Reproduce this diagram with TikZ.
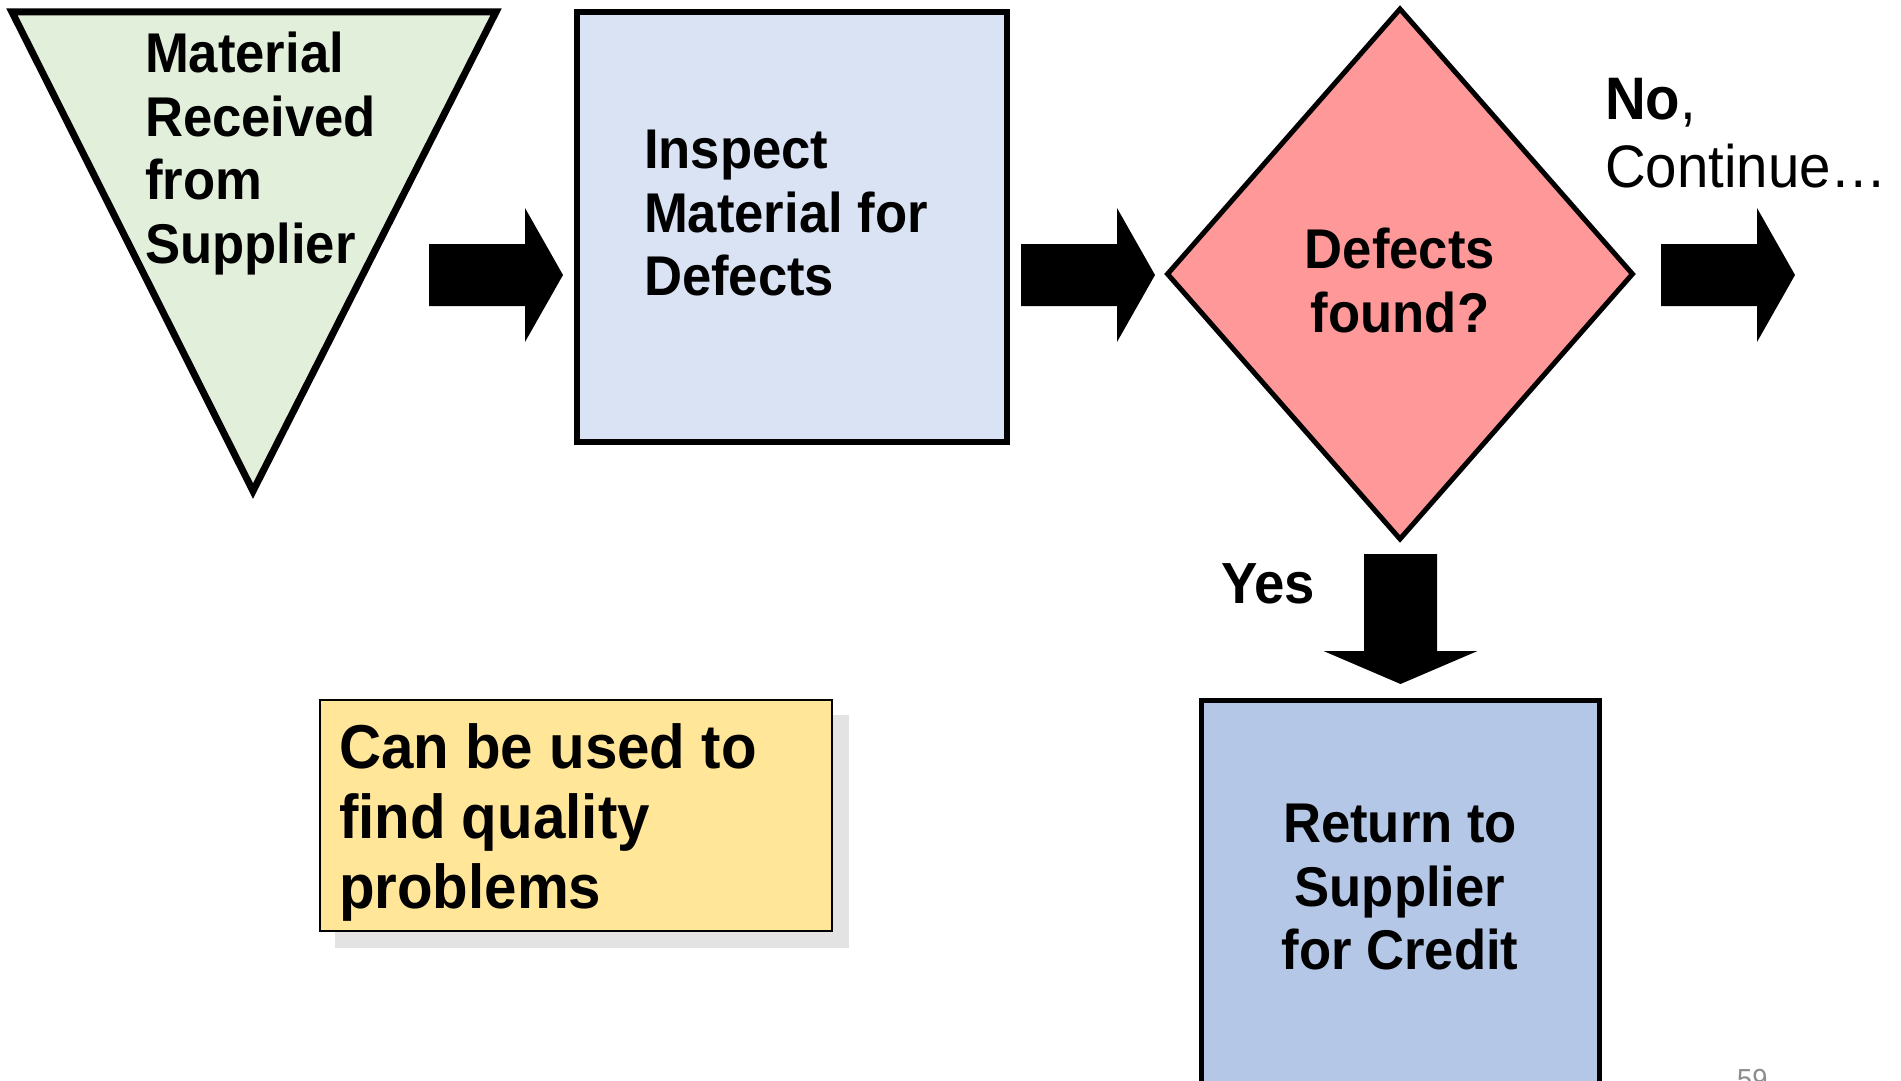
\documentclass[tikz,border=0pt]{standalone}
\usepackage{fontspec}
\setmainfont{Liberation Sans}[FakeStretch=0.94]
\usetikzlibrary{shapes.geometric,backgrounds}

\definecolor{trigreen}{HTML}{E2EFDA}
\definecolor{inspblue}{HTML}{DAE3F3}
\definecolor{decred}{HTML}{FF9999}
\definecolor{retblue}{HTML}{B4C7E7}
\definecolor{noteyellow}{HTML}{FFE699}
\definecolor{shadowgrey}{HTML}{E3E3E3}
\definecolor{pagegrey}{HTML}{8C8C8C}

\tikzset{
  txt/.style={inner sep=0pt, outer sep=0pt, align=left,
    font=\bfseries\fontsize{56}{63.5}\selectfont},
  stepbox/.style={draw, line width=6pt, inner sep=0pt},
  rarrow/.pic={\fill (0,-31) -- (96,-31) -- (96,-67) -- (134,0)
      -- (96,67) -- (96,31) -- (0,31) -- cycle;},
  darrow/.pic={\fill (-36.5,0) -- (36.5,0) -- (36.5,97) -- (77,97)
      -- (0,130) -- (-77,97) -- (-36.5,97) -- cycle;}
}

\begin{document}
\begin{tikzpicture}[x=1pt,y=-1pt]
\useasboundingbox (0,0) rectangle (1901,1081);

% incoming material (inverted triangle)
\path[draw, line width=7pt, fill=trigreen]
  (12,12) coordinate (t1) -- (496,12) coordinate (t2)
  -- (253,491) coordinate (t3) -- cycle;
\node[txt, anchor=north west] (recv) at (145,32)
  {Material\\Received\\from\\Supplier};

% inspection step
\node[stepbox, fill=inspblue, minimum width=430pt, minimum height=430pt]
  (insp) at (792,227) {};
\node[txt, anchor=north west] (insptext) at (644,130)
  {Inspect\\Material for\\Defects};

% decision
\node[diamond, draw, line width=5pt, fill=decred, inner sep=0pt,
  minimum width=467pt, minimum height=532pt] (dec) at (1400,274) {};
\node[txt, align=center, anchor=north] (dectext) at (1400,228)
  {Defects\\found?};

% "no" branch label
\node[anchor=north west, inner sep=0pt, align=left,
  font=\fontsize{60}{68}\selectfont] (no) at (1605,78)
  {\textbf{No},\\Continue…};

% "yes" branch label
\node[txt, font=\bfseries\fontsize{58}{66}\selectfont, anchor=north west]
  (yes) at (1221,564) {Yes};

% return step (runs past the lower edge)
\node[stepbox, line width=5pt, fill=retblue, minimum width=398pt,
  minimum height=420pt] (ret) at (1400.5,910) {};
\node[txt, align=center, anchor=north] (rettext) at (1400,804)
  {Return to\\Supplier\\for Credit};

% note box
\node[draw, line width=1.5pt, fill=noteyellow, inner sep=0pt,
  minimum width=512pt, minimum height=231pt] (note) at (576,815.5) {};
\node[txt, font=\bfseries\fontsize{62}{70}\selectfont, anchor=north west]
  (notetext) at (339,724) {Can be used to\\find quality\\problems};

% block arrows
\pic at (429,275) {rarrow};
\pic at (1021,275) {rarrow};
\pic at (1661,275) {rarrow};
\pic at (1400.5,554) {darrow};

% page number
\node[anchor=north west, inner sep=0pt, text=pagegrey,
  font=\fontsize{29}{34}\selectfont] (pg) at (1737,1069) {59};

\begin{pgfonlayer}{background}
  \fill[white] (0,0) rectangle (1901,1081);
  \fill[shadowgrey] ([shift={(16,16)}]note.north west)
    rectangle ([shift={(16,16)}]note.south east);
\end{pgfonlayer}
\end{tikzpicture}
\end{document}
